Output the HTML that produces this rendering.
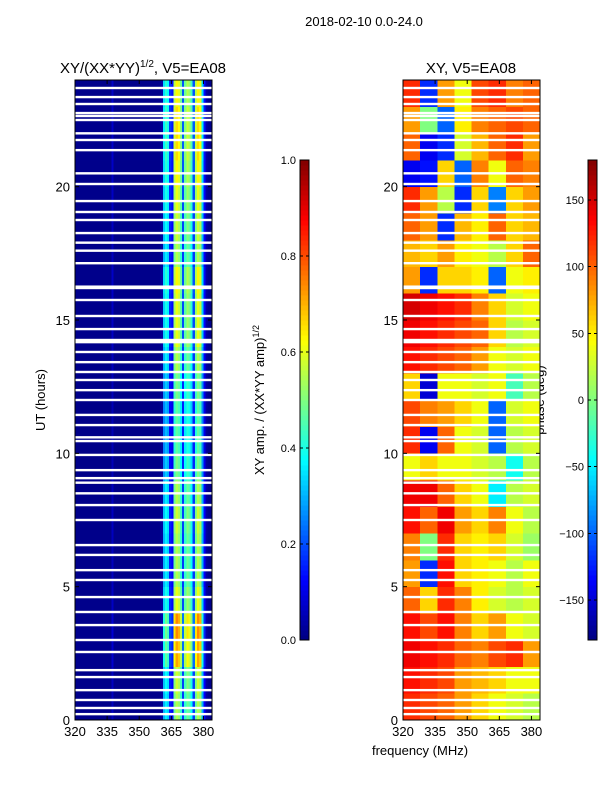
<!DOCTYPE html>
<html><head><meta charset="utf-8"><style>
body{margin:0;background:#fff;}
svg{display:block;font-family:"Liberation Sans",sans-serif;}
</style></head><body>
<svg id="fig" width="600" height="800" viewBox="0 0 600 800">
<text x="364" y="26" font-size="13" text-anchor="middle">2018-02-10 0.0-24.0</text>
<text x="143" y="73" font-size="15" text-anchor="middle">XY/(XX*YY)<tspan font-size="10" dy="-6">1/2</tspan><tspan dy="6">, V5=EA08</tspan></text>
<text x="471" y="73" font-size="15" text-anchor="middle">XY, V5=EA08</text>
<text x="45" y="400" font-size="13" text-anchor="middle" transform="rotate(-90 45 400)">UT (hours)</text>
<text x="420" y="755" font-size="13" text-anchor="middle">frequency (MHz)</text>
<text x="264" y="400" font-size="13" text-anchor="middle" transform="rotate(-90 264 400)">XY amp. / (XX*YY amp)<tspan font-size="9" dy="-5">1/2</tspan></text>
<text x="544" y="400" font-size="13" text-anchor="middle" transform="rotate(-90 544 400)">phase (deg)</text>
<g id="g"></g>
</svg>
<script>
// ---- data ----
const utTicks=[0,5,10,15,20];
const freqTicks=[320,335,350,365,380];
const ampChanFreqs=[320,321,322,323,324,325,326,327,328,329,330,331,332,333,334,335,336,337,338,339,340,341,342,343,344,345,346,347,348,349,350,351,352,353,354,355,356,357,358,359,360,361,362,363,364,365,366,367,368,369,370,371,372,373,374,375,376,377,378,379,380,381,382,383];
const ampValues=[0.01,0.01,0.01,0.01,0.01,0.01,0.01,0.01,0.01,0.01,0.01,0.01,0.01,0.01,0.01,0.01,0.01,0.06,0.01,0.01,0.01,0.01,0.01,0.01,0.01,0.01,0.01,0.01,0.01,0.01,0.01,0.01,0.01,0.01,0.01,0.01,0.01,0.01,0.01,0.01,0.03,0.3,0.36,0.33,0.15,0.12,0.48,0.55,0.52,0.42,0.18,0.42,0.48,0.45,0.38,0.18,0.48,0.55,0.52,0.3,0.12,0.03,0.01,0.01];
const ampHourGain=[1.0,1.05,1.3,1.35,1.1,1.0,1.0,1.05,1.0,0.9,0.85,0.85,0.9,1.0,1.1,1.1,1.15,1.0,1.05,1.1,1.15,1.2,1.2,1.15];
const phaseGroupFreqs=[320,328,336,344,352,360,368,376];
const phaseRows=[
[120,110,100,80,60,40,30,20],
[130,120,110,80,70,60,40,40],
[140,130,120,100,90,110,120,80],
[130,110,130,90,60,80,40,30],
[100,60,120,90,50,30,20,30],
[80,-120,130,60,50,40,20,40],
[90,0,120,60,50,60,30,10],
[130,100,140,80,60,90,40,20],
[140,140,100,60,40,-50,20,30],
[40,60,40,40,30,20,-40,20],
[120,-140,100,40,30,-100,20,30],
[110,90,80,60,40,-100,30,40],
[60,-150,40,40,30,40,-20,20],
[130,120,110,100,80,40,30,40],
[140,130,120,110,100,60,20,30],
[150,140,130,120,90,60,30,40],
[80,-120,60,60,50,-100,40,50],
[70,60,80,50,40,20,60,100],
[100,80,-120,70,50,100,60,70],
[120,80,20,-120,60,-90,60,80],
[-140,-130,60,-100,90,40,100,90],
[100,-140,-120,30,70,100,120,80],
[80,0,-100,50,90,100,110,100],
[120,-120,80,40,110,120,90,100]];
const flaggedUT=[23.7,23.36,23.1,22.76,22.65,22.5,22.0,21.75,21.37,20.5,20.1,19.46,19.05,18.75,18.26,17.9,17.6,17.13,16.25,16.2,15.75,15.15,14.66,14.25,14.17,13.8,13.42,13.05,12.75,12.37,12.0,11.44,11.06,10.6,10.46,9.94,9.37,9.07,8.9,8.5,8.06,7.5,6.56,6.19,5.62,5.25,4.61,4.05,3.56,3.0,2.55,1.87,1.61,1.12,0.75,0.45,0.22];
const ampCbTicks=[0.0,0.2,0.4,0.6,0.8,1.0];
const phaseCbTicks=[-150,-100,-50,0,50,100,150];

// ---- layout ----
const NS="http://www.w3.org/2000/svg";
const G=document.getElementById('g');
const panels=[{x0:75,x1:212,name:'amp'},{x0:403,x1:540,name:'phase'}];
const Y0=720,Y1=80;
function yS(ut){return Y0-(ut/24)*(Y0-Y1);}
function xS(p,f){return p.x0+(f-320)/64*(p.x1-p.x0);}
function jet(v){v=Math.max(0,Math.min(1,v));
 const r=Math.max(0,Math.min(1,1.5-Math.abs(4*v-3))),g=Math.max(0,Math.min(1,1.5-Math.abs(4*v-2))),b=Math.max(0,Math.min(1,1.5-Math.abs(4*v-1)));
 return `rgb(${Math.round(r*255)},${Math.round(g*255)},${Math.round(b*255)})`;}
function mk(tag,attrs,parent){const e=document.createElementNS(NS,tag);for(const k in attrs)e.setAttribute(k,attrs[k]);(parent||G).appendChild(e);return e;}

// amplitude heatmap
const gA=mk('g',{'shape-rendering':'crispEdges'});


for(let h=0;h<24;h++){for(let c=0;c<ampChanFreqs.length;c++){
 const x=xS(panels[0],ampChanFreqs[c]),w=xS(panels[0],ampChanFreqs[c]+1)-x;
 const r=mk('rect',{x:x,y:yS(h+1),width:w+0.3,height:yS(h)-yS(h+1)+0.3,fill:jet(ampValues[c]*ampHourGain[h])},gA);
 
 
}}
// phase heatmap
const gP=mk('g',{'shape-rendering':'crispEdges'});


for(let h=0;h<24;h++){for(let c=0;c<phaseGroupFreqs.length;c++){
 const x=xS(panels[1],phaseGroupFreqs[c]),w=xS(panels[1],phaseGroupFreqs[c]+8)-x;
 const r=mk('rect',{x:x,y:yS(h+1),width:w+0.3,height:yS(h)-yS(h+1)+0.3,fill:jet((phaseRows[h][c]+180)/360)},gP);
 
 
}}
// flagged rows
panels.forEach(p=>{flaggedUT.forEach(u=>{
 const r=mk('rect',{x:p.x0,y:yS(u+0.045),width:p.x1-p.x0,height:yS(u-0.045)-yS(u+0.045),fill:'#fff'});
 
 
});});
// axes
panels.forEach((p,i)=>{
 const fr=mk('rect',{x:p.x0,y:Y1,width:p.x1-p.x0,height:Y0-Y1,fill:'none',stroke:'#000','stroke-width':1});
 
 
 utTicks.forEach(t=>{const y=yS(t);
  mk('line',{x1:p.x0,x2:p.x0+4,y1:y,y2:y,stroke:'#000'});
  mk('line',{x1:p.x1,x2:p.x1-4,y1:y,y2:y,stroke:'#000'});
  const tx=mk('text',{x:p.x0-5,y:y+5,'font-size':13,'text-anchor':'end'});tx.textContent=t;
  
  
 });
 freqTicks.forEach(f=>{const x=xS(p,f);
  mk('line',{x1:x,x2:x,y1:Y0,y2:Y0-4,stroke:'#000'});
  mk('line',{x1:x,x2:x,y1:Y1,y2:Y1+4,stroke:'#000'});
  const tx=mk('text',{x:x,y:Y0+16,'font-size':13,'text-anchor':'middle'});tx.textContent=f;
  
  
 });
});
// colorbars
function colorbar(x,name,ticks,vmin,vmax,fmt){
 const top=160,bot=640,w=9;
 const g=mk('g',{'shape-rendering':'crispEdges'});
 
 
 for(let i=0;i<96;i++){mk('rect',{x:x,y:bot-(i+1)*5,width:w,height:5.3,fill:jet((i+0.5)/96)},g);}
 mk('rect',{x:x,y:top,width:w,height:bot-top,fill:'none',stroke:'#000'},g);
 ticks.forEach(t=>{const y=bot-(t-vmin)/(vmax-vmin)*(bot-top);
  mk('line',{x1:x,x2:x+3,y1:y,y2:y,stroke:'#000'},g);
  mk('line',{x1:x+w,x2:x+w-3,y1:y,y2:y,stroke:'#000'},g);
  const tx=mk('text',{x:x-4,y:y+4,'font-size':11,'text-anchor':'end'},g);tx.textContent=fmt(t);
  
  
 });
}
colorbar(300,'amp-colorbar',ampCbTicks,0,1,t=>t.toFixed(1));
colorbar(588,'phase-colorbar',phaseCbTicks,-180,180,t=>t<0?'\u2212'+(-t):String(t));
</script>
</body></html>
